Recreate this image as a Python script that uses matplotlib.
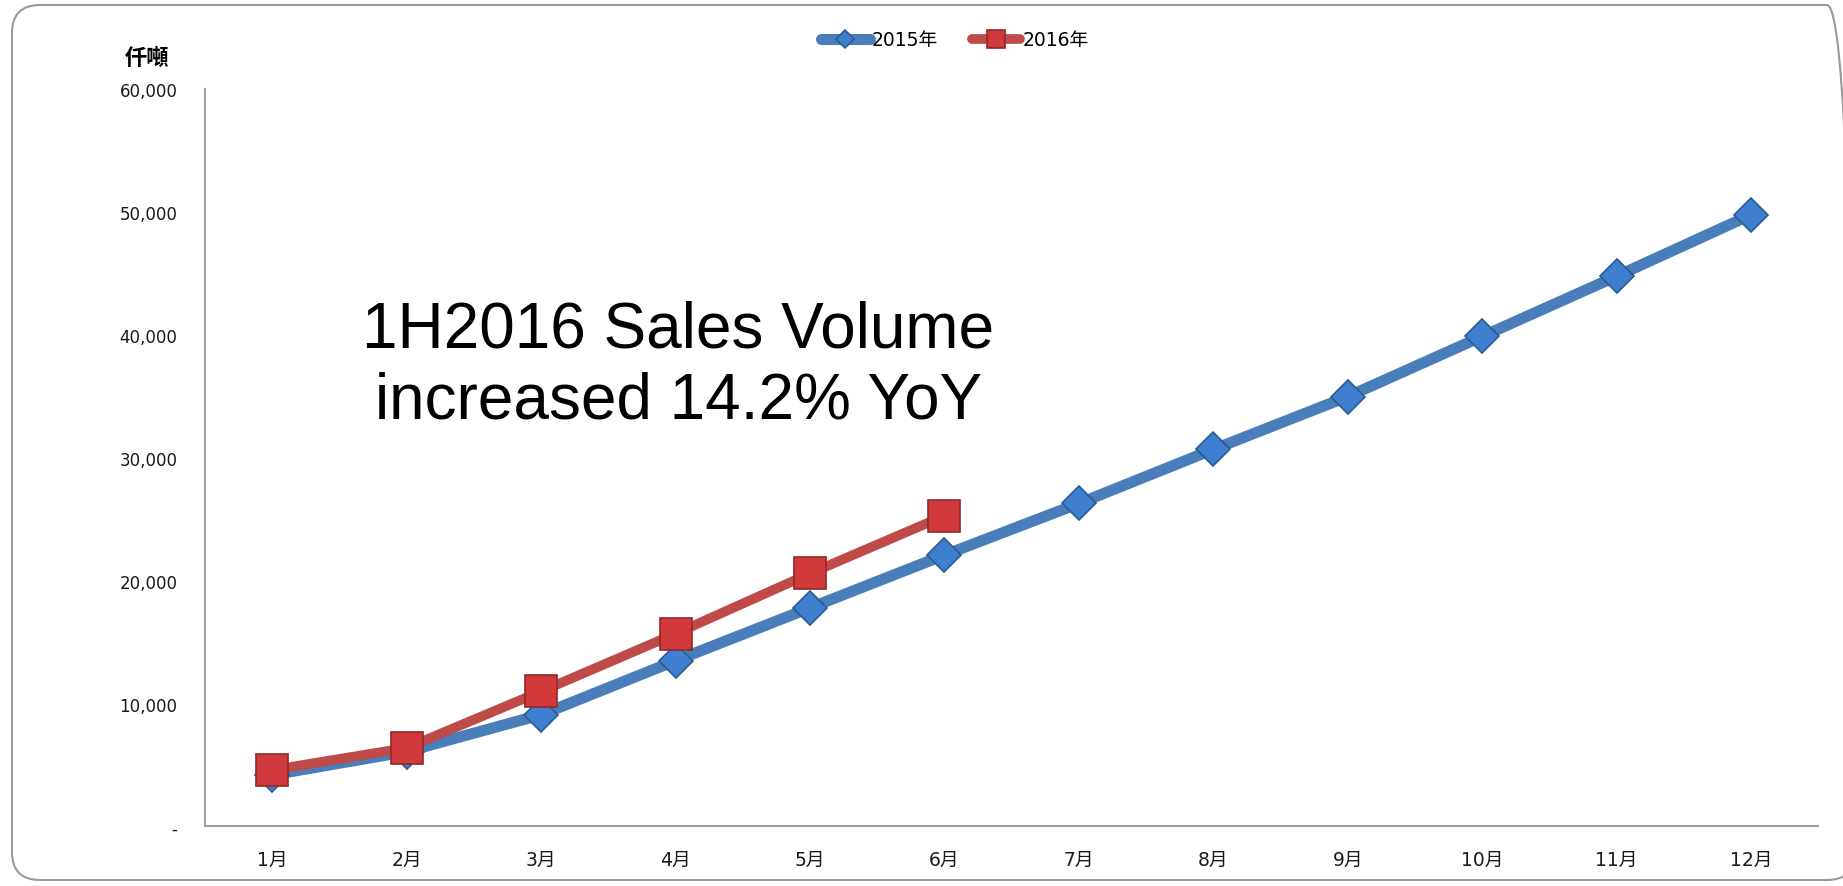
import matplotlib
matplotlib.use('Agg')
import matplotlib.pyplot as plt
from matplotlib import font_manager
from matplotlib.patches import FancyBboxPatch
from matplotlib.ticker import FuncFormatter

plt.rcParams['font.family'] = ['DejaVu Sans', 'Noto Sans CJK TC']

# data (thousand tonnes, cumulative)
months = ['1月', '2月', '3月', '4月', '5月', '6月', '7月', '8月', '9月', '10月', '11月', '12月']
sales_2015 = [4200, 6100, 9100, 13500, 17800, 22100, 26300, 30700, 35000, 39900, 44800, 49800]
sales_2016 = [4600, 6400, 11000, 15700, 20600, 25300]
label_2015 = '2015年'
label_2016 = '2016年'
unit_label = '仟噸'
note = '1H2016 Sales Volume\nincreased 14.2% YoY'
yticks = [0, 10000, 20000, 30000, 40000, 50000, 60000]

fig = plt.figure(figsize=(18.43, 8.87), dpi=100)
ax = fig.add_axes([0.1113, 0.0671, 0.8753, 0.8309])

# outer rounded frame (inches), right side runs off the canvas
frame = FancyBboxPatch((0.12, 0.06), 18.43, 8.75, transform=fig.dpi_scale_trans,
                       boxstyle='round,pad=0,rounding_size=0.28',
                       fill=False, edgecolor='#9a9a9a', linewidth=1.5, zorder=-1)
fig.patches.append(frame)

x1 = list(range(1, len(sales_2015) + 1))
x2 = list(range(1, len(sales_2016) + 1))

ax.plot(x1, sales_2015, color='#4A7EBB', linewidth=8, marker='D', markersize=17,
        markerfacecolor='#3F7FCF', markeredgecolor='#2C5A8F', markeredgewidth=1.2,
        label=label_2015, zorder=3, solid_capstyle='round')
ax.plot(x2, sales_2016, color='#BE4B48', linewidth=7, marker='s', markersize=23,
        markerfacecolor='#D2393A', markeredgecolor='#8E2A28', markeredgewidth=1.2,
        label=label_2016, zorder=4, solid_capstyle='round')

ax.set_xlim(0.5, 12.5)
ax.set_ylim(0, 60000)
ax.set_xticks(x1)
ax.set_xticklabels(months)
ax.set_yticks(yticks)
ax.yaxis.set_major_formatter(FuncFormatter(lambda v, p: '-' if v == 0 else f'{v:,.0f}'))
ax.tick_params(axis='y', length=0, pad=20, labelsize=12, labelcolor='#1a1a1a')
ax.tick_params(axis='x', length=0, pad=17, labelsize=13.5, labelcolor='#1a1a1a')

for side in ['top', 'right']:
    ax.spines[side].set_visible(False)
for side in ['left', 'bottom']:
    ax.spines[side].set_color('#a0a0a0')
    ax.spines[side].set_linewidth(1.5)

fig.text(0.0795, 0.934, unit_label, ha='center', va='center', fontsize=16,
         fontweight='bold', family=['Noto Sans CJK TC', 'DejaVu Sans'])

# narrow face if there is one, else regular
names = {f.name for f in font_manager.fontManager.ttflist}
if 'Liberation Sans Narrow' in names:
    note_family, note_size, note_ls = 'Liberation Sans Narrow', 53, 1.1
else:
    note_family, note_size, note_ls = 'Liberation Sans', 46, 1.24
fig.text(0.368, 0.587, note, ha='center', va='center', fontsize=note_size,
         family=note_family, linespacing=note_ls, color='black')

fig.legend(loc='center', bbox_to_anchor=(0.518, 0.954), ncol=2, frameon=False,
           fontsize=13.5, handlelength=2.6, columnspacing=1.8, handletextpad=0.1,
           markerscale=0.55)

plt.savefig('out.png', dpi=100)
plt.close()
